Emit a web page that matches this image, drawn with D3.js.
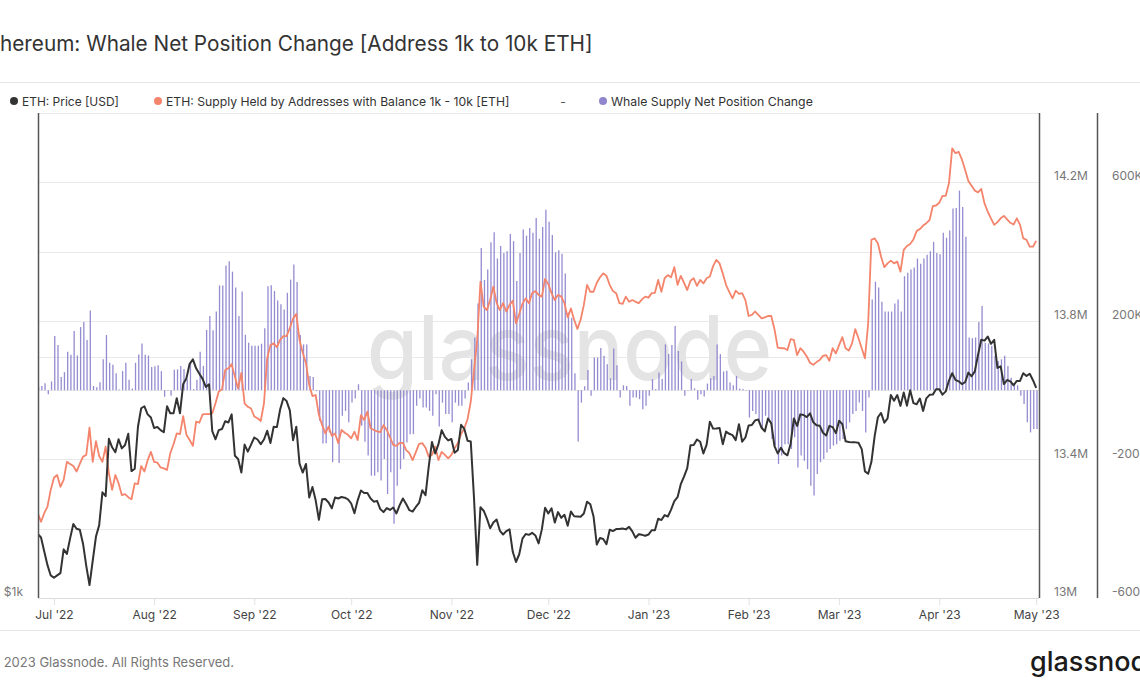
<!DOCTYPE html>
<html><head><meta charset="utf-8">
<script src="https://cdn.jsdelivr.net/npm/d3@7"></script>
<style>
html,body{margin:0;padding:0;background:#fff;overflow:hidden;}
svg{display:block;font-family:Inter,"Noto Sans",sans-serif;}
</style></head><body>
<svg id="chart" width="1140" height="694"></svg>
<script>
// ---------- DATA ----------
const firstDay = "2022-06-26";
const lastDay = "2023-05-01";
const monthTicks = ["2022-07-01","2022-08-01","2022-09-01","2022-10-01","2022-11-01","2022-12-01",
                    "2023-01-01","2023-02-01","2023-03-01","2023-04-01","2023-05-01"];
// ETH price, USD (daily)
const priceUSD = [
1202,1190,1143,1099,1067,
1060,1067,1074,1150,1135,1187,1237,1220,1217,1169,1097,1038,1113,1193,1233,1355,1340,1580,1542,1520,1578,1537,1552,1603,1440,1450,1636,1725,1735,1695,1680,
1630,1635,1620,1610,1735,1700,1700,1775,1700,1850,1880,1960,1985,1935,1905,1877,1834,1848,1615,1578,1620,1625,1662,1656,1695,1505,1491,1434,1554,1523,1554,
1586,1577,1556,1577,1617,1561,1636,1634,1719,1776,1761,1715,1574,1636,1471,1434,1470,1335,1376,1324,1252,1328,1329,1316,1294,1335,1331,1337,1334,1328,
1312,1276,1324,1362,1352,1352,1331,1319,1322,1291,1280,1295,1288,1297,1275,1306,1331,1310,1287,1282,1299,1314,1363,1344,1460,1566,1515,1556,1620,1589,1573,
1579,1518,1530,1645,1626,1571,1568,1334,1100,1298,1285,1256,1222,1242,1253,1214,1200,1212,1218,1142,1109,1134,1186,1202,1199,1206,1197,1170,1218,1296,
1275,1294,1242,1280,1259,1270,1231,1282,1265,1264,1263,1275,1319,1309,1264,1166,1188,1185,1167,1217,1212,1219,1219,1221,1218,1227,1211,1189,1201,1199,1196,
1200,1215,1215,1256,1251,1269,1264,1289,1321,1336,1387,1417,1452,1551,1552,1577,1567,1515,1554,1660,1627,1628,1630,1556,1613,1603,1597,1574,1648,1567,1586,
1642,1644,1666,1670,1631,1614,1675,1652,1547,1515,1540,1516,1507,1558,1675,1640,1695,1692,1682,1700,1657,1643,1641,1608,1595,1640,1634,1606,
1664,1648,1569,1566,1564,1564,1562,1534,1439,1429,1479,1592,1681,1702,1655,1676,1792,1763,1792,1737,1805,1738,1817,1751,1745,1774,1712,1775,1793,1794,1822,
1822,1794,1811,1868,1908,1872,1864,1849,1859,1911,1891,1918,2012,2100,2095,2120,2076,2100,1937,1946,1849,1871,1864,1843,1866,1866,1908,1893,1905,1870,
1829];
// Supply held by addresses with balance 1k-10k ETH, millions of ETH (daily)
const supplyM = [
13.245,13.220,13.245,13.264,13.312,13.347,13.355,13.321,13.341,13.393,13.387,13.381,13.365,13.387,13.408,13.413,13.492,13.393,13.453,13.410,13.393,13.437,13.360,13.312,13.355,13.331,13.297,13.300,13.291,13.285,13.331,13.329,13.381,13.365,13.398,13.422,13.393,13.391,13.377,13.374,13.370,13.418,13.444,13.475,13.473,13.525,13.471,13.456,13.439,13.509,13.506,13.530,
13.531,
13.531,13.533,13.562,13.596,13.602,13.658,13.663,13.675,13.639,13.605,13.650,13.562,13.552,13.547,13.524,13.519,13.511,13.562,13.692,13.730,13.735,13.724,13.745,13.756,13.756,13.779,13.807,13.820,13.745,13.708,13.678,13.615,13.583,13.586,13.528,13.499,13.475,13.495,13.468,13.475,13.447,13.485,13.477,13.471,13.461,13.480,13.456,13.528,13.514,13.538,13.490,
13.485,13.481,13.479,13.499,13.485,13.464,13.442,13.439,13.448,13.448,13.427,13.418,13.398,13.421,13.445,13.447,13.434,13.408,13.413,13.437,13.398,13.422,13.413,13.403,13.413,13.432,13.447,13.473,13.490,13.516,13.567,13.658,13.745,13.913,13.841,13.831,13.860,13.899,13.852,13.831,13.851,13.827,13.846,13.858,13.793,13.820,13.849,13.865,13.851,13.880,13.886,13.875,13.870,
13.921,13.906,13.880,13.860,13.875,13.870,13.851,13.810,13.836,13.803,13.777,13.803,13.846,13.904,13.884,13.884,13.910,13.926,13.937,13.930,13.904,13.886,13.880,13.851,13.849,13.870,13.855,13.860,13.855,13.851,13.862,13.870,13.867,13.880,13.881,13.918,13.884,13.923,13.932,13.926,13.955,13.904,13.930,13.910,13.889,13.916,13.923,13.901,13.918,13.908,13.923,13.928,13.958,
13.976,13.966,13.937,13.904,13.884,13.865,13.887,13.878,13.880,13.860,13.814,13.817,13.827,13.817,13.807,13.810,13.814,13.814,13.776,13.723,13.721,13.721,13.716,13.747,13.745,13.701,13.721,13.711,13.697,13.679,13.673,13.681,13.687,13.699,13.701,13.685,13.721,13.706,13.730,13.753,13.721,13.714,13.735,13.776,13.750,13.721,13.692,13.793,14.034,14.038,14.024,
13.985,13.955,13.966,13.974,13.966,13.971,13.942,14.005,14.016,14.022,14.035,14.059,14.065,14.075,14.082,14.091,14.131,14.133,14.141,14.161,14.161,14.197,14.298,14.284,14.288,14.266,14.236,14.204,14.190,14.176,14.171,14.181,14.139,14.115,14.096,14.077,14.085,14.096,14.103,14.093,14.083,14.078,14.096,14.077,14.038,14.034,14.014,14.014,14.031];
// Whale supply net position change, thousands of ETH (daily)
const netK = [
10,
12,20,-12,25,156,130,38,52,111,102,171,100,182,197,145,230,12,8,23,89,159,79,73,49,2,55,79,30,5,79,103,135,102,100,67,69,72,55,-19,-2,-16,59,60,70,61,32,80,3,30,111,70,174,
214,173,227,302,302,360,372,342,296,214,285,160,137,128,128,128,134,179,300,303,286,259,248,233,281,319,363,312,159,132,132,41,38,-3,-88,-154,-153,-122,-208,-127,-210,-74,-60,-93,-36,-24,17,-103,-149,-189,-247,-247,
-237,-261,-199,-300,-237,-386,-276,-228,-199,-151,-127,-127,-45,-24,-50,-50,-60,-74,-12,-105,-36,-69,-69,-93,-36,-45,-45,-24,22,89,152,250,410,318,348,427,456,380,416,396,401,451,430,315,396,464,446,468,454,497,437,471,
521,486,448,398,404,394,337,224,209,49,-148,-36,11,58,-16,94,94,122,99,75,34,120,72,-21,14,12,-45,-21,-21,-26,-55,-45,-16,32,3,51,32,132,104,130,185,113,83,-16,-2,32,5,-28,-12,-18,19,34,
41,132,104,54,56,22,14,41,5,3,-2,-79,-60,-69,-88,-112,-74,-88,-141,-160,-213,-189,-156,-156,-170,-136,-223,-189,-204,-228,-276,-304,-242,-208,-199,-180,-170,-160,-156,-146,-141,-112,-93,-69,-60,-36,-60,-122,-21,262,313,296,
255,227,227,227,250,262,227,329,339,348,354,380,365,380,391,401,428,396,392,454,440,461,524,526,576,529,443,152,150,152,197,243,137,135,128,99,84,89,99,70,36,20,14,-16,-40,-93,-122,-112,-112];

const supplyGrid = [13.2,13.4,13.6,13.8,14.0,14.2,14.4];
const supplyLabels = [13.0,13.4,13.8,14.2];
const netLabels = [-600,-200,200,600];
const priceGrid = [2000];
const priceLabels = [1000];

const titleText = "Ethereum: Whale Net Position Change [Address 1k to 10k ETH]";
const legendItems = [
  {label:"ETH: Price [USD]", color:"#333333"},
  {label:"ETH: Supply Held by Addresses with Balance 1k - 10k [ETH]", color:"#f4846b"},
  {label:"Whale Supply Net Position Change", color:"#8f86cf"}
];
const footerText = "© 2023 Glassnode. All Rights Reserved.";

// ---------- LAYOUT ----------
const W = 1140, H = 694;
const L = 38, R = 1039, T = 113, B = 598;
const svg = d3.select("#chart");
const parse = d3.utcParse("%Y-%m-%d");
const dates = d3.utcDay.range(parse(firstDay), d3.utcDay.offset(parse(lastDay), 1));
const rows = dates.map((d, i) => ({date: d, price: priceUSD[i], supply: supplyM[i], net: netK[i]}))
                  .filter(r => r.price !== undefined);

const x = d3.scaleUtc().domain([parse(firstDay), parse(lastDay)]).range([37.8, 1036.2]);
const yPrice = d3.scaleLog().domain([1000, 4030]).range([B, T]);
const ySupply = d3.scaleLinear().domain([13.0, 14.4]).range([B, T]);
const yNet = d3.scaleLinear().domain([-600, 800]).range([B, T]);

// separators
svg.append("line").attr("x1",0).attr("x2",W).attr("y1",82.5).attr("y2",82.5).attr("stroke","#e6e6e6");
svg.append("line").attr("x1",0).attr("x2",W).attr("y1",630.5).attr("y2",630.5).attr("stroke","#e6e6e6");

// title
const title = svg.append("text").attr("y",51).attr("fill","#333").attr("font-size",19).text(titleText);
(function fitTitle(){
  const probe = svg.append("text").attr("font-size",19).text(titleText.slice(2));
  const w = probe.node().getComputedTextLength(); probe.remove();
  const fs = 19 * 593 / w;
  title.attr("font-size", fs);
  const p2 = svg.append("text").attr("font-size",fs).text(titleText.slice(0,2));
  const w2 = p2.node().getComputedTextLength(); p2.remove();
  title.attr("x", -w2);
})();

// legend
const legendPos = [{dot:14, text:22, end:119},{dot:158, text:166, end:510},{dot:603, text:611, end:813}];
legendItems.forEach((it, k) => {
  const p = legendPos[k];
  svg.append("circle").attr("cx",p.dot).attr("cy",101).attr("r",4).attr("fill",it.color);
  const t = svg.append("text").attr("x",p.text).attr("y",105.5).attr("fill","#333").attr("font-size",12.5).text(it.label);
  const w = t.node().getComputedTextLength();
  t.attr("font-size", 12.5 * (p.end - p.text) / w);
});
svg.append("text").attr("x",563).attr("y",105.5).attr("fill","#555").attr("font-size",12).attr("text-anchor","middle").text("-");

// gridlines
const grid = svg.append("g");
supplyGrid.forEach(v => grid.append("line").attr("x1",L).attr("x2",R)
  .attr("y1",Math.round(ySupply(v))+0.5).attr("y2",Math.round(ySupply(v))+0.5).attr("stroke","#e9e9e9"));
priceGrid.forEach(v => grid.append("line").attr("x1",L).attr("x2",R)
  .attr("y1",Math.round(yPrice(v))+0.5).attr("y2",Math.round(yPrice(v))+0.5).attr("stroke","#e9e9e9"));

// watermark
svg.append("text").attr("x",367).attr("y",380).attr("font-size",90).attr("font-weight",500)
  .attr("fill","#e4e4e4").attr("textLength",405).attr("lengthAdjust","spacingAndGlyphs").text("glassnode");

// clip
svg.append("clipPath").attr("id","plotclip").append("rect").attr("x",L).attr("y",T-2).attr("width",R-L).attr("height",B-T+2);
const plot = svg.append("g").attr("clip-path","url(#plotclip)");

// bars
plot.append("g").selectAll("line").data(rows.filter(r => r.net !== undefined)).join("line")
  .attr("x1", d => x(d.date)+0.8).attr("x2", d => x(d.date)+0.8)
  .attr("y1", yNet(0)).attr("y2", d => yNet(d.net))
  .attr("stroke","#8f86cf").attr("stroke-width",1.3).attr("opacity",0.95);

// supply line
plot.append("path").datum(rows.filter(r => r.supply !== undefined))
  .attr("fill","none").attr("stroke","#f4846b").attr("stroke-width",1.8).attr("stroke-linejoin","round")
  .attr("d", d3.line().x(d => x(d.date)).y(d => ySupply(d.supply)));

// price line
plot.append("path").datum(rows)
  .attr("fill","none").attr("stroke","#333").attr("stroke-width",2).attr("stroke-linejoin","round")
  .attr("d", d3.line().x(d => x(d.date)).y(d => yPrice(d.price)));

// axes
const xAxis = svg.append("g").attr("transform",`translate(0,${B})`)
  .call(d3.axisBottom(x).tickValues(monthTicks.map(parse)).tickFormat(d3.utcFormat("%b '%y")).tickSize(7).tickPadding(5));
xAxis.select(".domain").remove();
xAxis.selectAll(".tick line").attr("stroke","#e3e3e3");
xAxis.selectAll(".tick text").attr("fill","#444").attr("font-size",12).attr("font-family","Inter,sans-serif");
svg.append("line").attr("x1",L).attr("x2",R).attr("y1",B+0.5).attr("y2",B+0.5).attr("stroke","#dcdcdc");

const leftAxis = svg.append("g").attr("transform",`translate(${L},0)`)
  .call(d3.axisLeft(yPrice).tickValues(priceLabels).tickFormat(d => "$" + (d/1000) + "k").tickSize(0).tickPadding(15));
leftAxis.select(".domain").remove();
leftAxis.selectAll("text").attr("fill","#777").attr("font-size",12).attr("dy","-0.2em").attr("font-family","Inter,sans-serif");

const supAxis = svg.append("g").attr("transform",`translate(${R},0)`)
  .call(d3.axisRight(ySupply).tickValues(supplyLabels).tickFormat(d => (+d.toFixed(1)) + "M").tickSize(0).tickPadding(15));
supAxis.select(".domain").remove();
supAxis.selectAll("text").attr("fill","#777").attr("font-size",12).attr("dy","-0.2em").attr("font-family","Inter,sans-serif");

const netAxis = svg.append("g").attr("transform",`translate(1097,0)`)
  .call(d3.axisRight(yNet).tickValues(netLabels).tickFormat(d => d + "K").tickSize(0).tickPadding(15));
netAxis.select(".domain").remove();
netAxis.selectAll("text").attr("fill","#777").attr("font-size",12).attr("dy","-0.2em").attr("font-family","Inter,sans-serif");

// axis lines
[[L,"#555"],[R,"#555"],[1097,"#555"]].forEach(([xx,c]) =>
  svg.append("line").attr("x1",xx+0.5).attr("x2",xx+0.5).attr("y1",T).attr("y2",B).attr("stroke",c).attr("stroke-width",1.5));

// footer
const foot = svg.append("text").attr("y",667).attr("fill","#777").attr("font-size",13).text(footerText);
(function(){
  const p = svg.append("text").attr("font-size",13).text("© ");
  const w = p.node().getComputedTextLength(); p.remove();
  foot.attr("x", -w);
})();
svg.append("text").attr("x",1030).attr("y",671).attr("font-size",27).attr("font-weight",500)
  .attr("fill","#1b1b1b").text("glassnode");
</script>
</body></html>
